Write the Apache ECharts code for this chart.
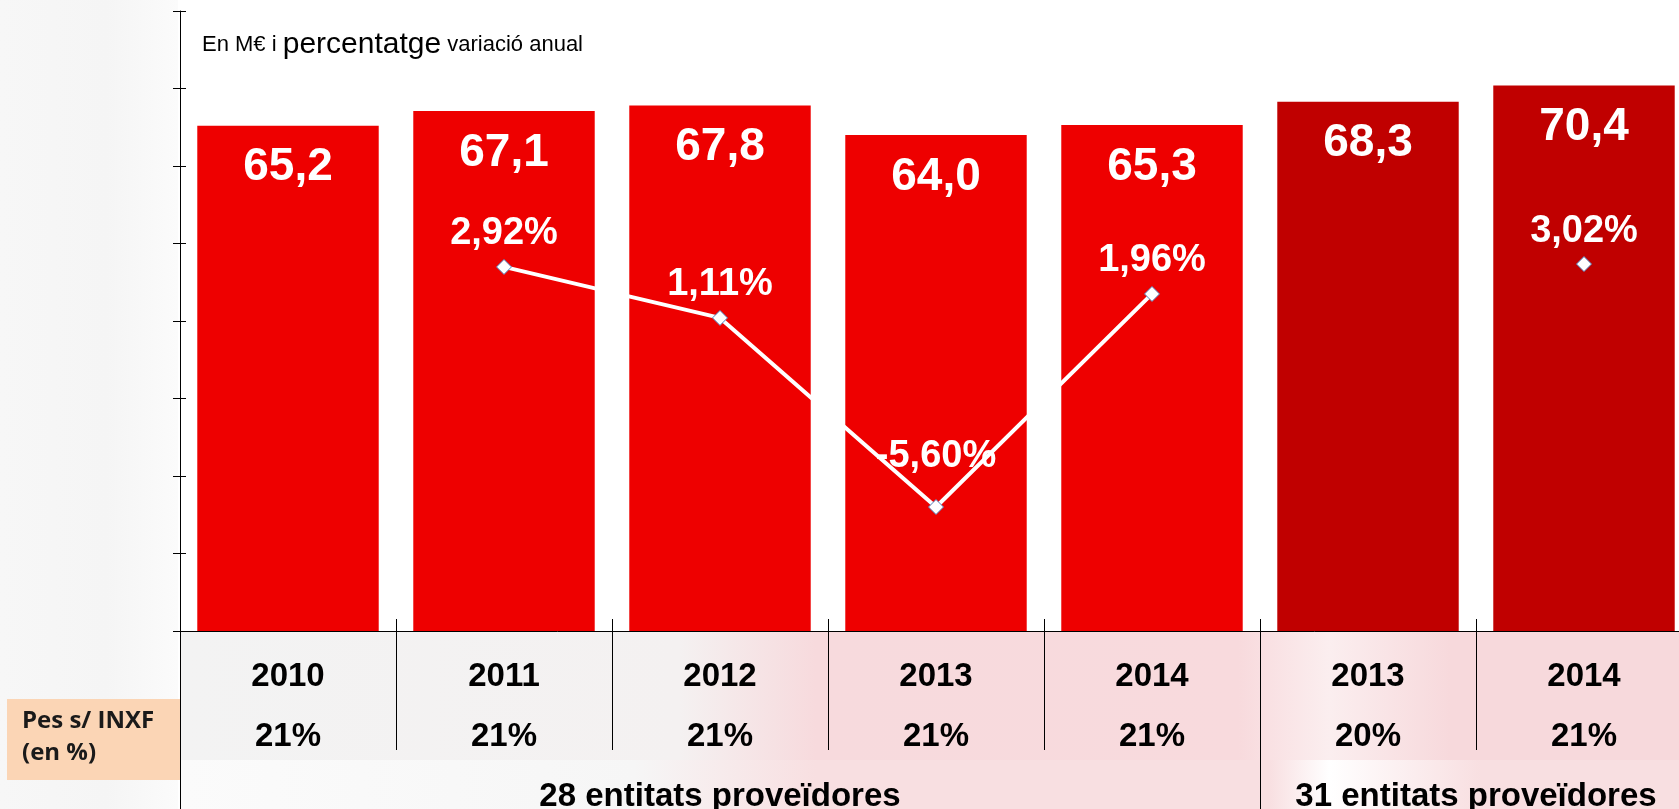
<!DOCTYPE html>
<html>
<head>
<meta charset="utf-8">
<script src="https://cdn.jsdelivr.net/npm/echarts@6/dist/echarts.min.js"></script>
<style>
html,body{margin:0;padding:0;background:#fff;overflow:hidden;width:1679px;height:809px;}
#chart{width:1692px;height:809px;}
</style>
</head>
<body>
<div id="chart"></div>
<script>
const categories = ['2010', '2011', '2012', '2013', '2014', '2013', '2014'];
const importValues = [65.2, 67.1, 67.8, 64.0, 65.3, 68.3, 70.4];
const variation = [null, 2.92, 1.11, -5.60, 1.96, null, 3.02];
const pesInxf = [21, 21, 21, 21, 21, 20, 21];
const groupNames = ['28 entitats proveïdores', '31 entitats proveïdores'];
const groupSpans = [[0, 4], [5, 6]];
const barColors = ['#EE0000', '#EE0000', '#EE0000', '#EE0000', '#EE0000', '#C00000', '#C00000'];

const sans = "'Liberation Sans', Arial, sans-serif";

const chart = echarts.init(document.getElementById('chart'), null, {renderer: 'canvas'});

const fmt = (v, d) => v.toFixed(d).replace('.', ',');

const option = {
  animation: false,
  backgroundColor: '#ffffff',
  title: {
    text: '{a|En M€ i }{b|percentatge}{a| variació anual}',
    left: 197,
    top: 25,
    textStyle: {
      fontWeight: 'normal',
      rich: {
        a: {fontSize: 22, fontWeight: 'normal', fontFamily: sans, color: '#000'},
        b: {fontSize: 30, fontWeight: 'normal', fontFamily: sans, color: '#000'}
      }
    }
  },
  grid: {left: 180, right: 0, top: 11, bottom: 178, containLabel: false},
  xAxis: [
    {
      type: 'category',
      data: categories,
      position: 'bottom',
      axisLine: {show: true, onZero: false, lineStyle: {color: '#000', width: 1}},
      axisTick: {show: true, inside: true, length: 12, lineStyle: {color: '#000'}},
      axisLabel: {
        margin: 16,
        interval: 0,
        formatter: (v, i) => '{y|' + v + '}\n{p|' + pesInxf[i] + '%}',
        rich: {
          y: {fontSize: 33, fontWeight: 'bold', fontFamily: sans, color: '#000', lineHeight: 60},
          p: {fontSize: 33, fontWeight: 'bold', fontFamily: sans, color: '#000', lineHeight: 60}
        }
      },
      splitLine: {show: false}
    },
    {
      type: 'category',
      data: categories,
      position: 'bottom',
      axisLine: {show: false, onZero: false},
      axisTick: {show: true, inside: false, length: 119, lineStyle: {color: '#000'}},
      axisLabel: {show: false},
      splitLine: {show: false}
    },
    {
      type: 'category',
      data: categories,
      position: 'bottom',
      axisLine: {show: false, onZero: false},
      axisTick: {show: true, inside: false, length: 190, interval: (i) => i === 0 || i === 5, lineStyle: {color: '#000'}},
      axisLabel: {show: false},
      splitLine: {show: false}
    }
  ],
  yAxis: [
    {
      type: 'value', min: 0, max: 80, interval: 10, position: 'left',
      axisLine: {show: true, onZero: false, lineStyle: {color: '#000'}},
      axisTick: {show: true, inside: false, length: 7, lineStyle: {color: '#000'}},
      axisLabel: {show: false},
      splitLine: {show: false}
    },
    {
      type: 'value', min: 0, max: 80, interval: 10, position: 'left', offset: 0,
      axisLine: {show: false, onZero: false},
      axisTick: {show: true, inside: true, length: 6, lineStyle: {color: '#000'}},
      axisLabel: {show: false},
      splitLine: {show: false}
    },
    {
      type: 'value', min: -10, max: 12, show: false, splitLine: {show: false}
    }
  ],
  series: [
    {
      type: 'bar',
      xAxisIndex: 0,
      yAxisIndex: 0,
      barCategoryGap: '16%',
      data: importValues.map((v, i) => ({value: v, itemStyle: {color: barColors[i]}})),
      label: {
        show: true,
        position: 'insideTop',
        distance: 19,
        color: '#fff',
        fontSize: 46,
        fontWeight: 'bold',
        fontFamily: sans,
        formatter: (p) => fmt(p.value, 1)
      },
      z: 2
    },
    {
      type: 'line',
      xAxisIndex: 0,
      yAxisIndex: 2,
      data: variation.map((v) => v === null ? null : (v < 0 ? {value: v, label: {distance: 23}} : v)),
      connectNulls: false,
      lineStyle: {color: '#fff', width: 4},
      symbol: 'diamond',
      symbolSize: 15,
      showSymbol: true,
      itemStyle: {color: '#fff', borderColor: '#4F81BD', borderWidth: 1},
      label: {
        show: true,
        position: 'top',
        distance: 6,
        color: '#fff',
        fontSize: 38,
        fontWeight: 'bold',
        fontFamily: sans,
        formatter: (p) => fmt(p.value, 2) + '%'
      },
      z: 5
    }
  ]
};

chart.setOption(option);

// Decorations: blurred background below the axis, left label box, group captions
const yAxisBottom = chart.convertToPixel({yAxisIndex: 0}, 0);
const W = 1692;
const graphics = [
  {
    type: 'rect', z: -10, silent: true,
    shape: {x: 181, y: yAxisBottom + 1, width: W - 181, height: 809 - yAxisBottom},
    style: {
      fill: new echarts.graphic.LinearGradient(0, 0, 1, 0, [
        {offset: 0, color: '#f3f3f3'},
        {offset: 0.33, color: '#f4f1f1'},
        {offset: 0.42, color: '#f7dadd'},
        {offset: 0.70, color: '#f8dadd'},
        {offset: 0.76, color: '#fbeeef'},
        {offset: 0.84, color: '#f7d9dc'},
        {offset: 1, color: '#f7d9dc'}
      ])
    }
  },
  {
    type: 'rect', z: -10, silent: true,
    shape: {x: 181, y: 760, width: W - 181, height: 49},
    style: {
      fill: new echarts.graphic.LinearGradient(0, 0, 1, 0, [
        {offset: 0, color: '#fbfbfb'},
        {offset: 0.3, color: '#f6f6f6'},
        {offset: 0.42, color: '#f8dfe1'},
        {offset: 0.72, color: '#f8dfe1'},
        {offset: 0.76, color: '#ffffff'},
        {offset: 0.86, color: '#f8dfe1'},
        {offset: 1, color: '#f8dfe1'}
      ])
    }
  },
  {
    type: 'rect', z: -10, silent: true,
    shape: {x: 0, y: 0, width: 178, height: 809},
    style: {
      fill: new echarts.graphic.LinearGradient(0, 0, 1, 0, [
        {offset: 0, color: '#f7f7f7'},
        {offset: 0.6, color: '#f5f5f5'},
        {offset: 1, color: '#fbfbfb'}
      ])
    }
  },
  {
    type: 'rect', z: 10, silent: true,
    shape: {x: 7, y: 699, width: 173, height: 81},
    style: {fill: '#FBD5B5'}
  },
  {
    type: 'text', z: 11, silent: true,
    x: 22, y: 705,
    style: {
      text: 'Pes s/ INXF\n(en %)',
      font: "bold 24px 'Open Sans', Lato, sans-serif",
      fill: '#1a1a1a',
      lineHeight: 32
    }
  }
];
groupSpans.forEach((span, k) => {
  const x0 = chart.convertToPixel({xAxisIndex: 0}, span[0]);
  const x1 = chart.convertToPixel({xAxisIndex: 0}, span[1]);
  graphics.push({
    type: 'text', z: 11, silent: true,
    x: (x0 + x1) / 2, y: 797,
    style: {
      text: groupNames[k],
      font: "bold 33px " + sans,
      fill: '#000',
      align: 'center',
      verticalAlign: 'middle'
    }
  });
});
chart.setOption({graphic: graphics});
</script>
</body>
</html>
